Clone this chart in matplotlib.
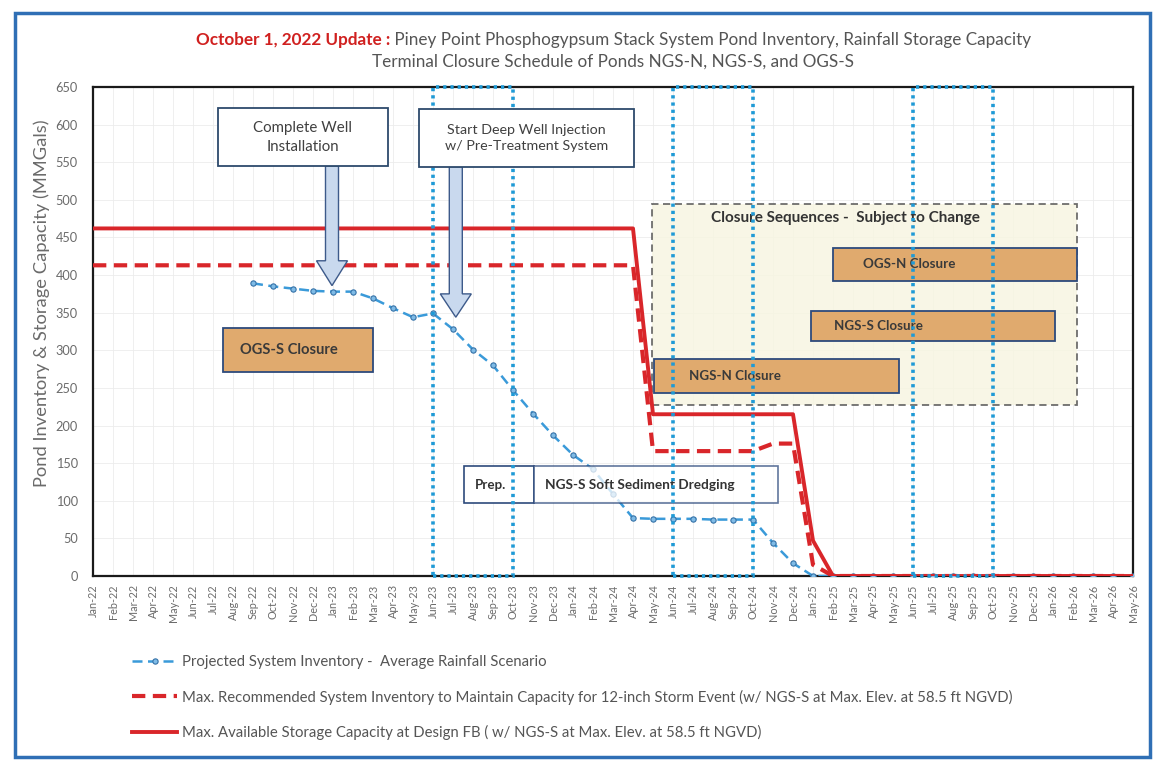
import numpy as np
import matplotlib
matplotlib.use("Agg")
import matplotlib.pyplot as plt
from matplotlib import font_manager
from matplotlib.patches import Rectangle, FancyArrow

# ---------------- data ----------------
month_names = ["Jan", "Feb", "Mar", "Apr", "May", "Jun", "Jul", "Aug", "Sep", "Oct", "Nov", "Dec"]
years = ["22", "23", "24", "25", "26"]
months = [f"{m}-{y}" for y in years for m in month_names][:53]   # Jan-22 .. May-26

# Max. Available Storage Capacity (solid red)
capacity = [462] * 28 + [215] * 8 + [47] + [0] * 16
# Max. Recommended System Inventory (dashed red)
recommended = [413] * 28 + [166, 166, 166, 166, 166, 166, 176, 176, 15] + [0] * 16
# Projected System Inventory (blue) - starts Sep-22
nan = np.nan
projected = [nan] * 8 + [389, 385, 382, 379, 378, 378, 369, 356, 344, 349,
                         328, 301, 280, 247, 216, 187, 161, 142, 109, 77,
                         76, 76, 76, 75, 75, 75, 44, 17] + [0] * 17

# hurricane-season windows
season_start = ["Jun-23", "Jun-24", "Jun-25"]
season_end = ["Oct-23", "Oct-24", "Oct-25"]

# ---------------- fonts ----------------
names = {f.name for f in font_manager.fontManager.ttflist}
FONT = "Lato" if "Lato" in names else "DejaVu Sans"
plt.rcParams["font.family"] = [FONT, "DejaVu Sans"]

W, H = 1154, 761
fig = plt.figure(figsize=(W / 100, H / 100), dpi=100)

def fx(px):
    return px / W

def fy(py):
    return 1 - py / H

ax = fig.add_axes([fx(93), fy(576), fx(1133) - fx(93), fy(87) - fy(576)])
x = np.arange(len(months))

ax.set_xlim(0, len(months) - 1)
ax.set_ylim(0, 650)
ax.set_yticks(np.arange(0, 651, 50))
ax.set_xticks(x)
ax.set_xticklabels(months, rotation=90, fontsize=7.8, color="#6b6b6b")
ax.tick_params(axis="y", labelsize=9.2, colors="#6b6b6b", length=0, pad=11)
ax.tick_params(axis="x", length=0, pad=6)
for s in ax.spines.values():
    s.set_linewidth(1.6)
    s.set_color("#1a1a1a")
ax.grid(True, color="#ececec", lw=0.6, zorder=0)
ax.set_axisbelow(True)

# closure sequences box (background)
ax.add_patch(Rectangle((27.96, 227), 49.2 - 27.96, 495 - 227, facecolor="#f7f5e2",
                       edgecolor="#555555", lw=1.3, ls=(0, (4, 2.5)), alpha=0.85, zorder=1))
ax.text(30.9, 476, "Closure Sequences -  Subject to Change", fontsize=11, fontweight="bold",
        color="#333333", va="center", ha="left", zorder=6)

# data lines
ax.plot(x, projected, color="#3a9ad9", lw=1.8, ls=(0, (4, 2.2)), marker="o", ms=3.8,
        mfc="#7fbbe6", mec="#3572a8", mew=0.8, zorder=3,
        label="Projected System Inventory -  Average Rainfall Scenario")
ax.plot(x, recommended, color="#d9262a", lw=3.0, ls=(0, (3.2, 1.8)), zorder=4,
        label="Max. Recommended System Inventory to Maintain Capacity for 12-inch Storm Event (w/ NGS-S at Max. Elev. at 58.5 ft NGVD)")
ax.plot(x, capacity, color="#d9262a", lw=2.8, zorder=4,
        label="Max. Available Storage Capacity at Design FB ( w/ NGS-S at Max. Elev. at 58.5 ft NGVD)")

# orange closure boxes
orange = "#e0aa6e"
edge = "#2d4a7c"
for (x0, x1, y0, y1, tx, label, fs) in [
    (37.02, 49.2, 392.7, 436.5, 38.5, "OGS-N Closure", 9.6),
    (35.92, 48.1, 313, 352.9, 37.07, "NGS-S Closure", 9.6),
    (28.06, 40.28, 242.8, 289, 29.8, "NGS-N Closure", 9.6),
    (6.51, 13.98, 270.6, 329, 7.36, "OGS-S Closure", 10.6),
]:
    ax.add_patch(Rectangle((x0, y0), x1 - x0, y1 - y0, facecolor=orange, edgecolor=edge,
                           lw=1.3, zorder=5))
    ax.text(tx, (y0 + y1) / 2, label, fontsize=fs, fontweight="bold", color="#3a3a3a",
            va="center", ha="left", zorder=6)

# prep / dredging boxes
ax.add_patch(Rectangle((18.54, 97), 22.04 - 18.54, 146 - 97, facecolor="white",
                       edgecolor=edge, lw=1.2, zorder=5))
ax.text(19.9, 121.5, "Prep.", fontsize=9.6, fontweight="bold", color="#333333",
        va="center", ha="center", zorder=6)
ax.add_patch(Rectangle((22.04, 97), 34.27 - 22.04, 146 - 97, facecolor="white",
                       edgecolor=edge, lw=1.2, alpha=0.75, zorder=5))
ax.text(22.6, 121.5, "NGS-S Soft Sediment Dredging", fontsize=9.8, fontweight="bold",
        color="#333333", va="center", ha="left", zorder=6)

# hurricane-season dotted windows
for s, e in zip(season_start, season_end):
    i0, i1 = months.index(s), months.index(e)
    ax.add_patch(Rectangle((i0, 0), i1 - i0, 650, facecolor="none", edgecolor="#1f9ad6",
                           lw=2.6, ls=(0, (0.9, 1.1)), zorder=7, clip_on=False))

# callout boxes with arrows
for (x0, x1, y0, y1, label, ax_x, tip, head_top, fs) in [
    (6.26, 14.73, 545, 622, "Complete Well\nInstallation", 11.95, 386, 419, 10.8),
    (16.28, 27.05, 544, 621, "Start Deep Well Injection\nw/ Pre-Treatment System", 18.14, 344, 375, 10.3),
]:
    ax.add_patch(FancyArrow(ax_x, y0, 0, tip - y0, width=0.65, head_width=1.55,
                            head_length=head_top - tip,
                            length_includes_head=True, facecolor="#c9d9ee",
                            edgecolor="#3d5a8a", lw=1.0, zorder=8))
    ax.add_patch(Rectangle((x0, y0), x1 - x0, y1 - y0, facecolor="white", edgecolor="#2d4a6c",
                           lw=1.3, zorder=9, clip_on=False))
    ax.text((x0 + x1) / 2, (y0 + y1) / 2, label, fontsize=fs, color="#404040", ha="center",
            va="center", linespacing=1.45, zorder=10)

# axis label
fig.text(fx(42), fy(303), "Pond Inventory & Storage Capacity (MMGals)", rotation=90,
         fontsize=13.2, color="#6b6b6b", ha="center", va="center")

# title
t1 = fig.text(fx(196), fy(40), "October 1, 2022 Update :", fontsize=12.3, fontweight="bold",
              color="#d0201f", ha="left", va="center")
ax.annotate(" Piney Point Phosphogypsum Stack System Pond Inventory, Rainfall Storage Capacity",
            xy=(1, 0.5), xycoords=t1, va="center", ha="left", fontsize=12.3, color="#555555",
            annotation_clip=False)
fig.text(fx(613), fy(62), "Terminal Closure Schedule of Ponds NGS-N, NGS-S, and OGS-S",
         fontsize=12.3, color="#555555", ha="center", va="center")

# legend
leg = fig.legend(loc="upper left", bbox_to_anchor=(fx(119), fy(642)), frameon=False,
                 fontsize=10.75, handlelength=3.0, handletextpad=0.35, labelspacing=1.35)
for t in leg.get_texts():
    t.set_color("#555555")

# outer blue frame
fig.add_artist(Rectangle((fx(15), fy(757)), fx(1150) - fx(15), fy(13) - fy(757),
                         transform=fig.transFigure, facecolor="none",
                         edgecolor="#2f6fb5", lw=2.5))

fig.savefig("out.png", dpi=100)
